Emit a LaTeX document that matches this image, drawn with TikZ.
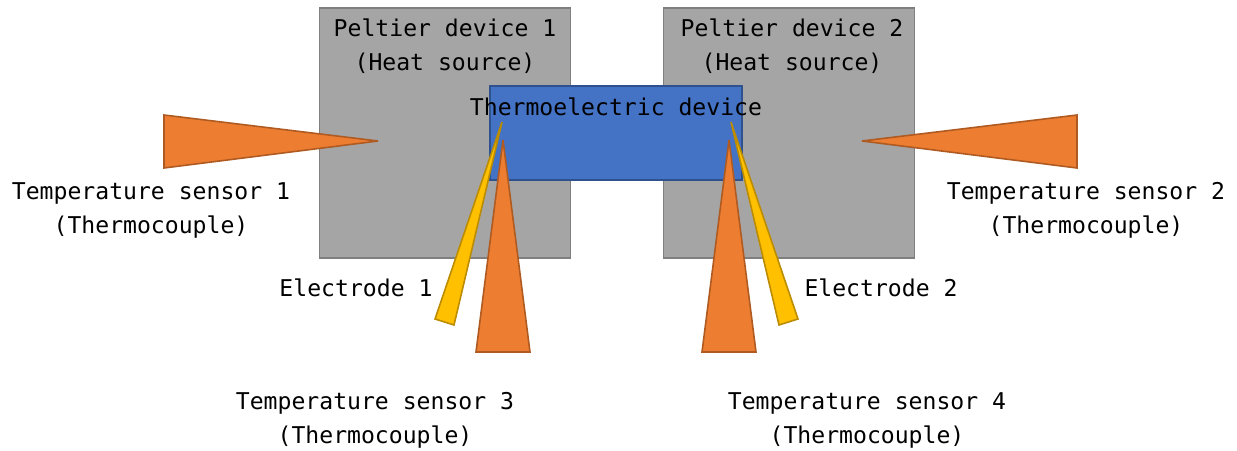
\documentclass[tikz,border=0pt]{standalone}
\usepackage{fontspec}
\setmonofont{DejaVu Sans Mono}
\definecolor{peltiergray}{HTML}{A5A5A5}
\definecolor{peltierline}{HTML}{7F7F7F}
\definecolor{teblue}{HTML}{4472C4}
\definecolor{teline}{HTML}{2F528F}
\definecolor{sensororange}{HTML}{ED7D31}
\definecolor{sensorline}{HTML}{AE5A21}
\definecolor{electrodeyellow}{HTML}{FFC000}
\definecolor{electrodeline}{HTML}{BC8C00}
\begin{document}
\begin{tikzpicture}[x=0.02cm,y=-0.02cm]
	\tikzset{peltier/.style = {shape=rectangle,draw=peltierline,fill=peltiergray,line width=0.9pt,minimum width=5.02cm,minimum height=5cm,inner sep=0pt}}
	\tikzset{device/.style = {shape=rectangle,draw=teline,fill=teblue,line width=0.9pt,minimum width=5.04cm,minimum height=1.88cm,inner sep=0pt}}
	\tikzset{sensor/.style = {draw=sensorline,fill=sensororange,line width=0.9pt,miter limit=5}}
	\tikzset{electrode/.style = {draw=electrodeline,fill=electrodeyellow,line width=0.9pt,miter limit=5}}
	\tikzset{label/.style = {font=\ttfamily\fontsize{13.15}{19.3}\selectfont,align=center,inner sep=0pt}}
	\useasboundingbox (0,0) rectangle (1237,450);
	\node[peltier] (p1) at (445,133) {};
	\node[peltier] (p2) at (789,133) {};
	\node[device] (te) at (616,133) {};
	\node[label] (p1text) at (445,46) {Peltier device 1\\(Heat source)};
	\node[label] (p2text) at (792,46) {Peltier device 2\\(Heat source)};
	\draw[sensor] (164,115) -- (378,141) -- (164,168) -- cycle;
	\draw[sensor] (1077,115) -- (862,141) -- (1077,168) -- cycle;
	\draw[electrode] (502,122) -- (454,325) -- (435,319) -- cycle;
	\draw[electrode] (731,122) -- (779,325) -- (798,319) -- cycle;
	\draw[sensor] (503,140) -- (530,352) -- (476,352) -- cycle;
	\draw[sensor] (729,140) -- (756,352) -- (702,352) -- cycle;
	\node[label] (tetext) at (616,107) {Thermoelectric device};
	\node[label] (s1text) at (151,210.5) {Temperature sensor 1\\(Thermocouple)};
	\node[label] (s2text) at (1086,210.5) {Temperature sensor 2\\(Thermocouple)};
	\node[label] (s3text) at (375,420.5) {Temperature sensor 3\\(Thermocouple)};
	\node[label] (s4text) at (867,420.5) {Temperature sensor 4\\(Thermocouple)};
	\node[label] (e1text) at (356,288) {Electrode 1};
	\node[label] (e2text) at (881,288) {Electrode 2};
\end{tikzpicture}
\end{document}
